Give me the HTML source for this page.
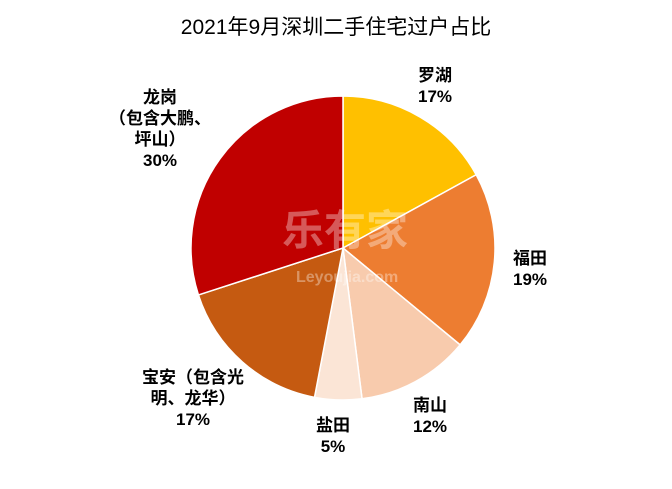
<!DOCTYPE html>
<html><head><meta charset="utf-8">
<style>
body{margin:0;background:#fff;}
svg{display:block;font-family:"Liberation Sans","Noto Sans CJK SC",sans-serif;}
.lb{font-size:17px;font-weight:bold;fill:#000;text-anchor:middle;}
</style></head>
<body>
<svg id="c" width="672" height="489" viewBox="0 0 672 489">
<text x="336" y="34" text-anchor="middle" font-size="21" fill="#000">2021年9月深圳二手住宅过户占比</text>
<g id="slices"></g>
<g id="wm" fill="#ffffff" font-weight="bold">
<text x="282" y="245" font-size="42" opacity="0.35">乐有家</text>
<text x="296" y="282" font-size="16" opacity="0.35">Leyoujia.com</text>
</g>
<g id="labels"></g>
</svg>
<script>
const categories=["罗湖","福田","南山","盐田","宝安","龙岗"];
const values=[17,19,12,5,17,30];
const colors=["#FFC000","#ED7D31","#F8CBAD","#FBE5D6","#C55A11","#C00000"];
const labelLines=[["罗湖","17%"],["福田","19%"],["南山","12%"],["盐田","5%"],["宝安（包含光","明、龙华）","17%"],["龙岗","（包含大鹏、","坪山）","30%"]];
const labelPos=[[435,81],[530,264],[430,411],[333,431],[193,383],[160,103]];
const cx=343,cy=248,r=152;
const ns="http://www.w3.org/2000/svg";
const total=values.reduce((a,b)=>a+b,0);
let a0=-Math.PI/2;
const gs=document.getElementById('slices'),gl=document.getElementById('labels');
values.forEach((v,i)=>{
  const a1=a0+v/total*2*Math.PI;
  const x0=cx+r*Math.cos(a0),y0=cy+r*Math.sin(a0),x1=cx+r*Math.cos(a1),y1=cy+r*Math.sin(a1);
  const p=document.createElementNS(ns,'path');
  p.setAttribute('d',`M${cx},${cy}L${x0},${y0}A${r},${r} 0 ${a1-a0>Math.PI?1:0} 1 ${x1},${y1}Z`);
  p.setAttribute('fill',colors[i]);p.setAttribute('stroke','#fff');p.setAttribute('stroke-width','1.5');
  
  
  gs.appendChild(p);
  const t=document.createElementNS(ns,'text');
  t.setAttribute('class','lb');
  
  
  labelLines[i].forEach((s,j)=>{
    const ts=document.createElementNS(ns,'tspan');
    ts.setAttribute('x',labelPos[i][0]);ts.setAttribute('y',labelPos[i][1]+j*21);
    ts.textContent=s;t.appendChild(ts);
  });
  gl.appendChild(t);
  a0=a1;
});
</script>
</body></html>
